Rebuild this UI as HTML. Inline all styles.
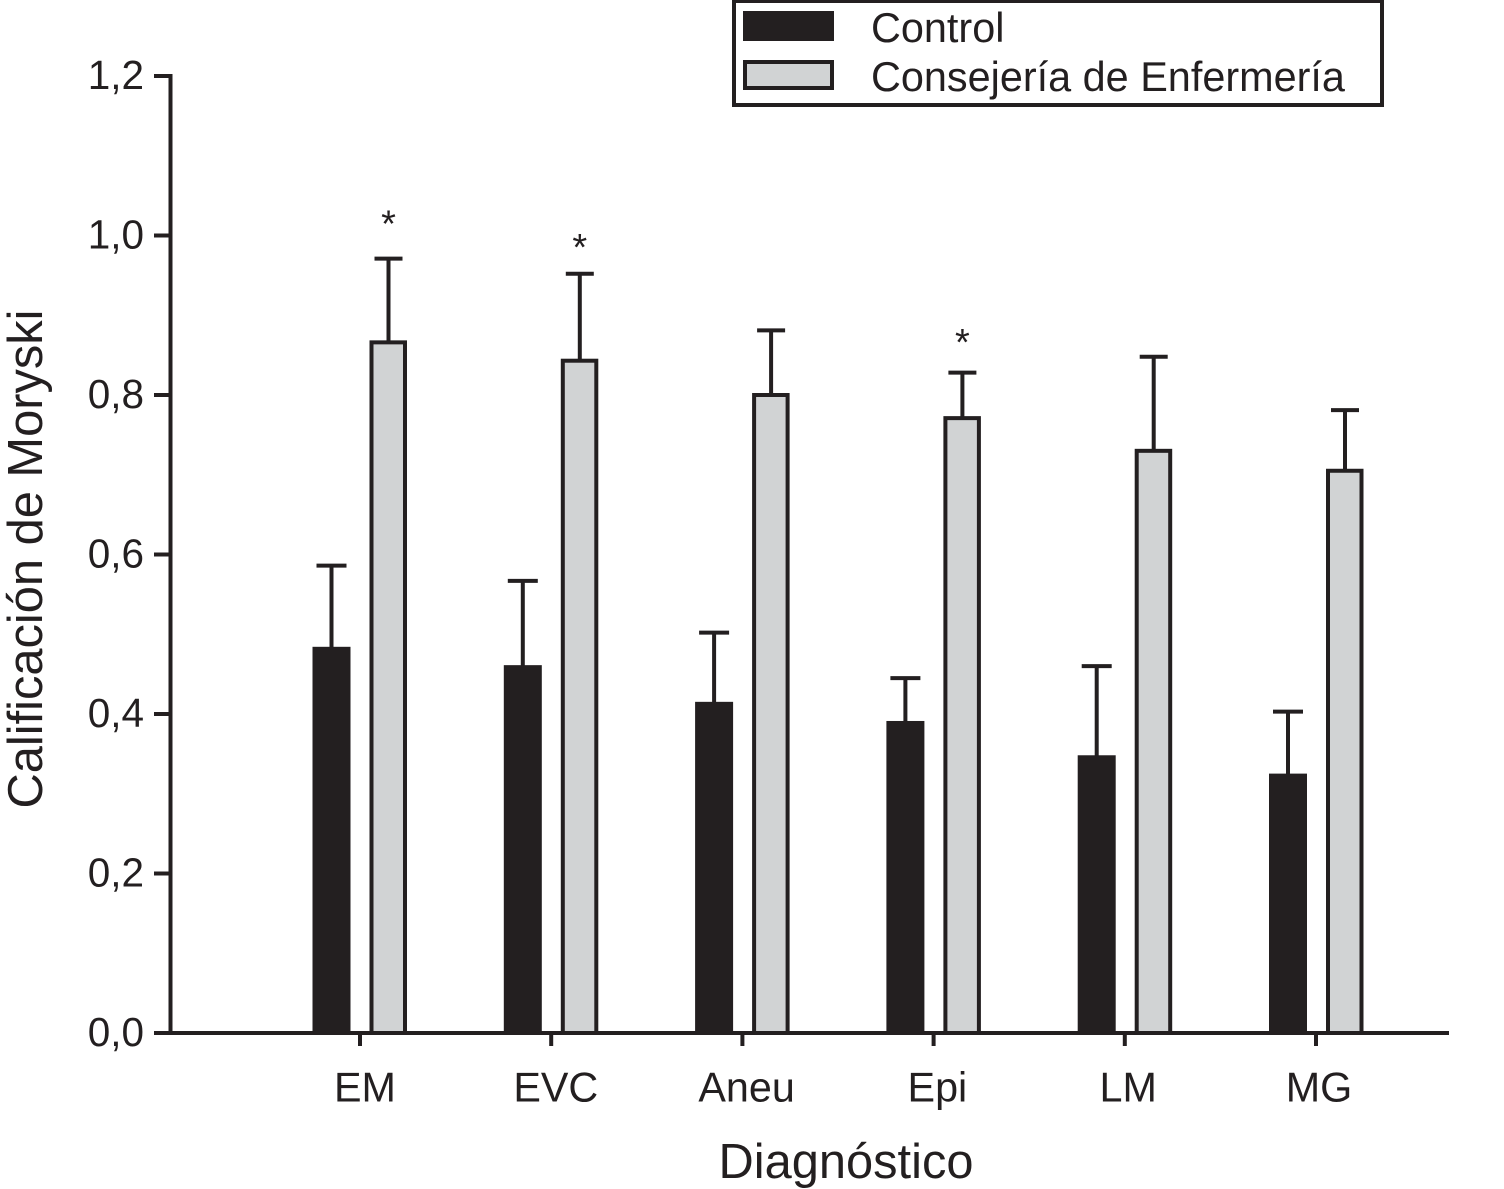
<!DOCTYPE html>
<html>
<head>
<meta charset="utf-8">
<style>
html,body{margin:0;padding:0;background:#fff;}
svg{display:block;}
text{font-family:"Liberation Sans",sans-serif;fill:#231f20;}
</style>
</head>
<body>
<svg id="chart" width="1504" height="1189" viewBox="0 0 1504 1189" xmlns="http://www.w3.org/2000/svg"></svg>
<script>
const categories = ["EM","EVC","Aneu","Epi","LM","MG"];
const controlValues = [0.483,0.46,0.414,0.39,0.347,0.324];
const controlErrors = [0.103,0.107,0.088,0.055,0.113,0.079];
const consejeriaValues = [0.866,0.843,0.8,0.771,0.73,0.705];
const consejeriaErrors = [0.105,0.109,0.081,0.057,0.118,0.076];
const significanceGaps = [0.028,0.017,null,0.022,null,null];
const yTicks = [0,0.2,0.4,0.6,0.8,1.0,1.2];

const svg = document.getElementById('chart');
const NS = 'http://www.w3.org/2000/svg';
const INK = '#231f20';
const GREY = '#d1d3d4';
const y = v => 1033 - v * (1033 - 76) / 1.2;
const controlCenter = i => 331.5 + i * 191.3;
const consejeriaCenter = i => 388.5 + i * 191.3;
const tickX = i => 360 + i * 191.2;
const labelX = i => 365 + i * 190.8;

function add(tag, attrs, text){
  const el = document.createElementNS(NS, tag);
  for (const k in attrs) el.setAttribute(k, attrs[k]);
  if (text !== undefined) el.textContent = text;
  svg.appendChild(el);
  return el;
}
function line(x1,y1,x2,y2,w){
  return add('line',{x1:x1,y1:y1,x2:x2,y2:y2,stroke:INK,'stroke-width':w});
}

// axes
let el = line(170.5,74,170.5,1035,4);


el = line(154,1033,1449,1033,4);



yTicks.forEach(t => {
  const tick = line(154,y(t),170,y(t),4);
  
  
  const lab = add('text',{x:144,y:y(t)+13,'text-anchor':'end','font-size':40.5},t.toFixed(1).replace('.',','));
  
  
});

categories.forEach((c,i) => {
  const tick = line(tickX(i),1033,tickX(i),1046,4);
  
  
  const lab = add('text',{x:labelX(i),y:1101.5,'text-anchor':'middle','font-size':41.3},c);
  
  

  // control bar
  const cx = controlCenter(i);
  const eb1 = line(cx,y(controlValues[i]),cx,y(controlValues[i]+controlErrors[i]),4);
  
  
  const cap1 = line(cx-15,y(controlValues[i]+controlErrors[i]),cx+15,y(controlValues[i]+controlErrors[i]),4);
  
  
  const bar1 = add('rect',{x:cx-19,y:y(controlValues[i])-1,width:38,height:1034-y(controlValues[i]),fill:INK});
  
  

  // consejeria bar
  const gx = consejeriaCenter(i);
  const eb2 = line(gx,y(consejeriaValues[i]),gx,y(consejeriaValues[i]+consejeriaErrors[i]),4);
  
  
  const cap2 = line(gx-14,y(consejeriaValues[i]+consejeriaErrors[i]),gx+14,y(consejeriaValues[i]+consejeriaErrors[i]),4);
  
  
  const bar2 = add('rect',{x:gx-17,y:y(consejeriaValues[i]),width:33.5,height:1033-y(consejeriaValues[i]),fill:GREY,stroke:INK,'stroke-width':4});
  
  

  if (significanceGaps[i] !== null) {
    const star = add('text',{x:gx,y:y(consejeriaValues[i]+consejeriaErrors[i]+significanceGaps[i]),'text-anchor':'middle','font-size':38},'*');
    
    
  }
});

el = add('text',{x:846,y:1178,'text-anchor':'middle','font-size':48.8},'Diagnóstico');


el = add('text',{x:0,y:0,'text-anchor':'middle','font-size':48.8,transform:'translate(42 559) rotate(-90)'},'Calificación de Moryski');



// legend
el = add('rect',{x:734,y:1,width:648,height:104,fill:'#fff',stroke:INK,'stroke-width':4});


el = add('rect',{x:743,y:11,width:91,height:30,fill:INK});


el = add('text',{x:871,y:42,'font-size':41.4},'Control');


el = add('rect',{x:745,y:62,width:87,height:26,fill:GREY,stroke:INK,'stroke-width':4});


el = add('text',{x:871,y:91,'font-size':41.4},'Consejería de Enfermería');


</script>
</body>
</html>
